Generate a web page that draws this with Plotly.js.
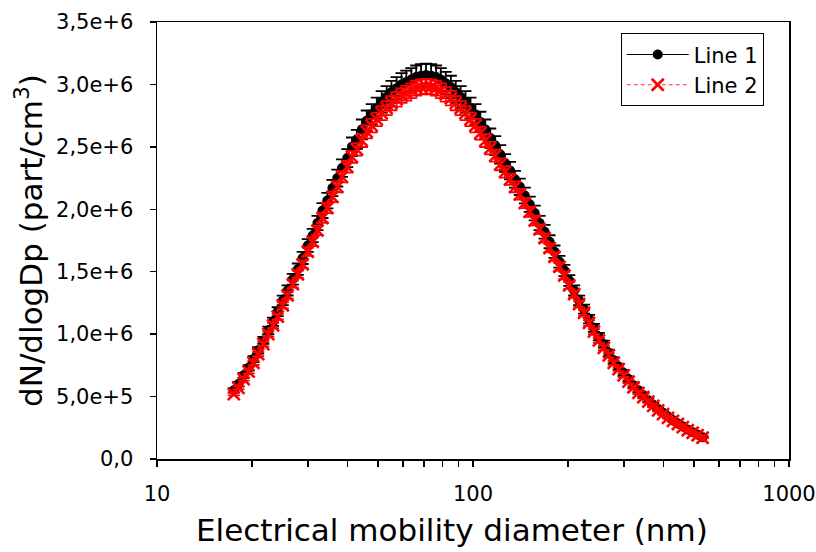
<!DOCTYPE html>
<html>
<head>
<meta charset="utf-8">
<script src="https://cdn.plot.ly/plotly-3.0.1.min.js"></script>
<style>
  html, body { margin: 0; padding: 0; background: #ffffff; }
  #chart { width: 816px; height: 552px; }
</style>
</head>
<body>
<div id="chart"></div>
<script>
// Electrical mobility diameter (nm) - SMPS channel midpoints
const diameter = [
  17.5, 18.1, 18.8, 19.5, 20.2, 20.9, 21.7, 22.5, 23.3, 24.1,
  25.0, 25.9, 26.9, 27.9, 28.9, 30.0, 31.1, 32.2, 33.4, 34.6,
  35.9, 37.2, 38.5, 40.0, 41.4, 42.9, 44.5, 46.1, 47.8, 49.6,
  51.4, 53.3, 55.2, 57.3, 59.4, 61.5, 63.8, 66.1, 68.5, 71.0,
  73.7, 76.4, 79.1, 82.0, 85.1, 88.2, 91.4, 94.7, 98.2, 101.8,
  105.5, 109.4, 113.4, 117.6, 121.9, 126.3, 131.0, 135.8, 140.7, 145.9,
  151.2, 156.8, 162.5, 168.5, 174.7, 181.1, 187.7, 194.6, 201.7, 209.1,
  216.7, 224.7, 232.9, 241.4, 250.3, 259.5, 269.0, 278.8, 289.0, 299.6,
  310.6, 322.0, 333.8, 346.0, 358.7, 371.8, 385.4, 399.5, 414.2, 429.4,
  445.1, 461.4, 478.3, 495.8, 514.0, 532.8
];

// dN/dlogDp, Line 1 (part/cm3)
const line1 = [
  0.55e6, 0.60e6, 0.67e6, 0.73e6, 0.80e6, 0.87e6, 0.95e6, 1.03e6, 1.10e6, 1.18e6,
  1.27e6, 1.35e6, 1.44e6, 1.52e6, 1.61e6, 1.71e6, 1.79e6, 1.89e6, 1.99e6, 2.07e6,
  2.17e6, 2.25e6, 2.33e6, 2.41e6, 2.50e6, 2.56e6, 2.64e6, 2.71e6, 2.76e6, 2.81e6,
  2.86e6, 2.90e6, 2.94e6, 2.97e6, 3.00e6, 3.02e6, 3.04e6, 3.06e6, 3.07e6, 3.075e6,
  3.07e6, 3.06e6, 3.04e6, 3.01e6, 2.98e6, 2.94e6, 2.90e6, 2.86e6, 2.81e6, 2.76e6,
  2.70e6, 2.64e6, 2.57e6, 2.51e6, 2.44e6, 2.37e6, 2.31e6, 2.24e6, 2.18e6, 2.11e6,
  2.04e6, 1.97e6, 1.89e6, 1.82e6, 1.74e6, 1.66e6, 1.58e6, 1.51e6, 1.43e6, 1.35e6,
  1.27e6, 1.20e6, 1.12e6, 1.05e6, 0.98e6, 0.92e6, 0.85e6, 0.79e6, 0.74e6, 0.69e6,
  0.64e6, 0.59e6, 0.55e6, 0.51e6, 0.47e6, 0.435e6, 0.40e6, 0.37e6, 0.34e6, 0.31e6,
  0.285e6, 0.26e6, 0.235e6, 0.215e6, 0.195e6, 0.175e6
];

// dN/dlogDp, Line 2 (part/cm3)
const line2 = [
  0.52e6, 0.57e6, 0.64e6, 0.70e6, 0.77e6, 0.84e6, 0.92e6, 1.00e6, 1.07e6, 1.14e6,
  1.23e6, 1.31e6, 1.40e6, 1.48e6, 1.56e6, 1.66e6, 1.74e6, 1.83e6, 1.93e6, 2.01e6,
  2.10e6, 2.18e6, 2.26e6, 2.34e6, 2.42e6, 2.48e6, 2.55e6, 2.62e6, 2.67e6, 2.72e6,
  2.77e6, 2.81e6, 2.85e6, 2.88e6, 2.91e6, 2.93e6, 2.95e6, 2.97e6, 2.98e6, 2.985e6,
  2.98e6, 2.97e6, 2.95e6, 2.92e6, 2.89e6, 2.85e6, 2.81e6, 2.77e6, 2.72e6, 2.67e6,
  2.61e6, 2.55e6, 2.49e6, 2.43e6, 2.36e6, 2.30e6, 2.24e6, 2.18e6, 2.12e6, 2.05e6,
  1.98e6, 1.91e6, 1.84e6, 1.77e6, 1.69e6, 1.62e6, 1.54e6, 1.47e6, 1.39e6, 1.32e6,
  1.24e6, 1.17e6, 1.09e6, 1.02e6, 0.95e6, 0.89e6, 0.83e6, 0.77e6, 0.72e6, 0.67e6,
  0.62e6, 0.575e6, 0.53e6, 0.495e6, 0.46e6, 0.425e6, 0.39e6, 0.36e6, 0.33e6, 0.305e6,
  0.28e6, 0.255e6, 0.23e6, 0.21e6, 0.19e6, 0.17e6
];

// Axis ticks
const yTickVals = [0, 0.5e6, 1.0e6, 1.5e6, 2.0e6, 2.5e6, 3.0e6, 3.5e6];
const yTickText = ["0,0", "5,0e+5", "1,0e+6", "1,5e+6", "2,0e+6", "2,5e+6", "3,0e+6", "3,5e+6"];
const xTickVals = [10, 100, 1000];
const xTickText = ["10", "100", "1000"];
const xMinorVals = [20, 30, 40, 50, 60, 70, 80, 90, 200, 300, 400, 500, 600, 700, 800, 900];

const xTitle = "Electrical mobility diameter (nm)";
const yTitle = "dN/dlogDp (part/cm<sup>3</sup>)";

const FONT = "DejaVu Sans, Arial, sans-serif";

const traces = [
  {
    x: diameter, y: line1, name: "Line 1", type: "scatter", mode: "lines+markers",
    line: { color: "#000000", width: 1 },
    marker: { symbol: "circle", size: 10, color: "#000000" },
    error_y: { type: "percent", value: 3, color: "#000000", thickness: 1.8, width: 6 }
  },
  {
    x: diameter, y: line2, name: "Line 2", type: "scatter", mode: "lines+markers",
    line: { color: "#ff3030", width: 1, dash: "4px,3px" },
    marker: { symbol: "x-thin-open", size: 12, color: "#ff0000", line: { color: "#ff0000", width: 2.6 } },
    error_y: { type: "percent", value: 2, color: "#ff0000", thickness: 1.8, width: 6 }
  }
];

const layout = {
  width: 816, height: 552,
  margin: { l: 157, r: 27, t: 22, b: 93 },
  paper_bgcolor: "#ffffff", plot_bgcolor: "#ffffff",
  font: { family: FONT, color: "#000000", size: 21 },
  showlegend: true,
  legend: {
    x: 0.960, xanchor: "right", y: 0.807, yanchor: "bottom",
    bgcolor: "#ffffff", bordercolor: "#000000", borderwidth: 1,
    font: { family: FONT, size: 21, color: "#000000" },
    itemwidth: 62, tracegroupgap: 0
  },
  xaxis: {
    type: "log", range: [1, 3],
    tickmode: "array", tickvals: xTickVals, ticktext: xTickText,
    ticks: "outside", ticklen: 6, tickwidth: 1.5, tickcolor: "#000000",
    minor: { tickmode: "array", tickvals: xMinorVals, ticks: "outside", ticklen: 6, tickwidth: 1.5, tickcolor: "#000000", showgrid: false },
    ticklabelstandoff: 9,
    showline: true, linecolor: "#000000", linewidth: 1.5, mirror: true,
    showgrid: false, zeroline: false,
    tickfont: { family: FONT, size: 21, color: "#000000" }
  },
  yaxis: {
    range: [0, 3.5e6],
    tickmode: "array", tickvals: yTickVals, ticktext: yTickText,
    ticks: "outside", ticklen: 6, tickwidth: 1.5, tickcolor: "#000000",
    ticklabelstandoff: 12,
    showline: true, linecolor: "#000000", linewidth: 1.5, mirror: true,
    showgrid: false, zeroline: false,
    tickfont: { family: FONT, size: 21, color: "#000000" },
    title: { text: yTitle, font: { family: FONT, size: 31, color: "#000000" }, standoff: 4 }
  },
  annotations: [
    {
      text: xTitle, xref: "paper", yref: "paper",
      x: 0.467, xanchor: "center", y: -0.163, yanchor: "middle",
      showarrow: false, font: { family: FONT, size: 31, color: "#000000" }
    }
  ]
};

Plotly.newPlot("chart", traces, layout, { displayModeBar: false, staticPlot: true });
</script>
</body>
</html>
